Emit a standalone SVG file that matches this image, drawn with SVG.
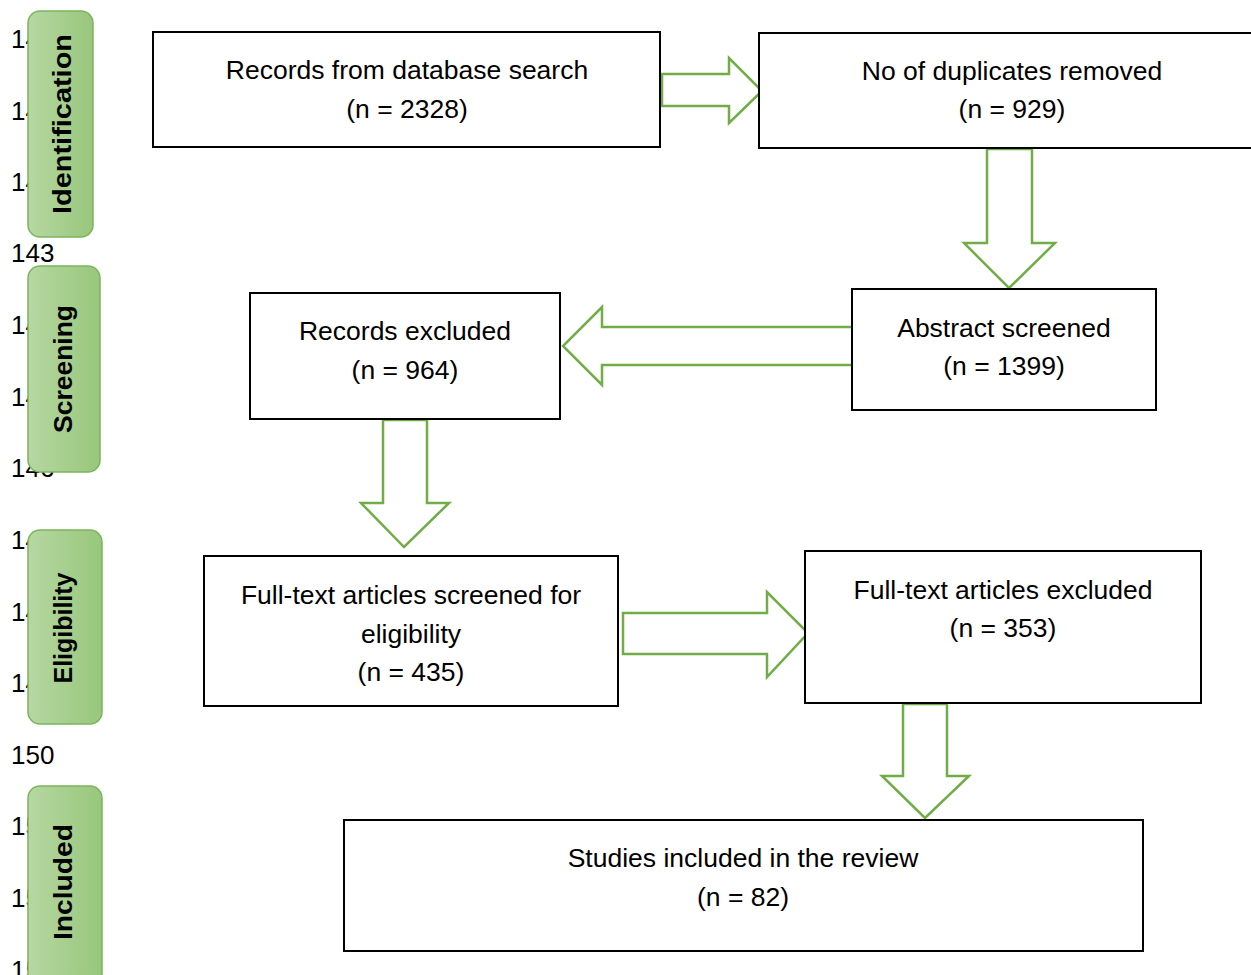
<svg xmlns="http://www.w3.org/2000/svg" width="1251" height="975" viewBox="0 0 1251 975">
<style>
.ln{font-family:"Liberation Sans",Arial,sans-serif;font-size:26px;fill:#000}
.box{fill:#fff;stroke:#000;stroke-width:2}
.t{font-family:"Liberation Sans",Arial,sans-serif;font-size:26.5px;fill:#000;text-anchor:middle}
.tab{fill:url(#g);stroke:#7ab55c;stroke-width:1.5}
.tt{font-family:"Liberation Sans",Arial,sans-serif;font-size:26px;font-weight:bold;fill:#000;text-anchor:middle}
.arr{fill:#fff;stroke:#70ad47;stroke-width:2.5;stroke-linejoin:miter}
</style>
<defs>
<linearGradient id="g" x1="0" y1="0" x2="1" y2="0">
<stop offset="0" stop-color="#b6d7a2"/>
<stop offset="1" stop-color="#98c77c"/>
</linearGradient>
</defs>
<rect width="1251" height="975" fill="#fff"/>
<g id="line-numbers">
<text class="ln" x="11" y="48">140</text>
<text class="ln" x="11" y="120">141</text>
<text class="ln" x="11" y="191">142</text>
<text class="ln" x="11" y="262">143</text>
<text class="ln" x="11" y="334">144</text>
<text class="ln" x="11" y="406">145</text>
<text class="ln" x="11" y="477">146</text>
<text class="ln" x="11" y="549">147</text>
<text class="ln" x="11" y="621">148</text>
<text class="ln" x="11" y="692">149</text>
<text class="ln" x="11" y="764">150</text>
<text class="ln" x="11" y="835">151</text>
<text class="ln" x="11" y="907">152</text>
<text class="ln" x="11" y="979">153</text>
</g>
<g id="tab-identification">
<rect class="tab" x="28" y="11" width="65" height="226" rx="12"/>
<text class="tt" transform="translate(71,124) rotate(-90)" textLength="180" lengthAdjust="spacingAndGlyphs">Identification</text>
</g>
<g id="tab-screening">
<rect class="tab" x="28" y="266" width="72" height="206" rx="12"/>
<text class="tt" transform="translate(72,369) rotate(-90)" textLength="128" lengthAdjust="spacingAndGlyphs">Screening</text>
</g>
<g id="tab-eligibility">
<rect class="tab" x="28" y="530" width="74" height="194" rx="12"/>
<text class="tt" transform="translate(72,628) rotate(-90)" textLength="111" lengthAdjust="spacingAndGlyphs">Eligibility</text>
</g>
<g id="tab-included">
<rect class="tab" x="28" y="786" width="74" height="200" rx="12"/>
<text class="tt" transform="translate(72,882) rotate(-90)" textLength="116" lengthAdjust="spacingAndGlyphs">Included</text>
</g>
<g id="connectors">
<polygon class="arr" points="662,74 729,74 729,58 762,91 729,123 729,106 662,106"/>
<polygon class="arr" points="987,149 1032,149 1032,243 1055,243 1009,288 964,243 987,243"/>
<polygon class="arr" points="855,327 602,327 602,307 563,346 602,385 602,365 855,365"/>
<polygon class="arr" points="383,420 427,420 427,503 449,503 404,547 361,503 383,503"/>
<polygon class="arr" points="623,613 767,613 767,592 808,633 767,677 767,654 623,654"/>
<polygon class="arr" points="903,704 947,704 947,776 969,776 925,818 882,776 903,776"/>
</g>
<g id="node-records">
<rect class="box" x="153" y="32" width="507" height="115"/>
<text class="t" x="407" y="79">Records from database search</text>
<text class="t" x="407" y="118">(n = 2328)</text>
</g>
<g id="node-duplicates">
<rect class="box" x="759" y="33" width="500" height="115"/>
<text class="t" x="1012" y="80">No of duplicates removed</text>
<text class="t" x="1012" y="118">(n = 929)</text>
</g>
<g id="node-excluded">
<rect class="box" x="250" y="293" width="310" height="126"/>
<text class="t" x="405" y="340">Records excluded</text>
<text class="t" x="405" y="379">(n = 964)</text>
</g>
<g id="node-abstract">
<rect class="box" x="852" y="289" width="304" height="121"/>
<text class="t" x="1004" y="337">Abstract screened</text>
<text class="t" x="1004" y="375">(n = 1399)</text>
</g>
<g id="node-fulltext-screened">
<rect class="box" x="204" y="556" width="414" height="150"/>
<text class="t" x="411" y="604">Full-text articles screened for</text>
<text class="t" x="411" y="643">eligibility</text>
<text class="t" x="411" y="681">(n = 435)</text>
</g>
<g id="node-fulltext-excluded">
<rect class="box" x="805" y="551" width="396" height="152"/>
<text class="t" x="1003" y="599">Full-text articles excluded</text>
<text class="t" x="1003" y="637">(n = 353)</text>
</g>
<g id="node-included">
<rect class="box" x="344" y="820" width="799" height="131"/>
<text class="t" x="743" y="867">Studies included in the review</text>
<text class="t" x="743" y="906">(n = 82)</text>
</g>
</svg>
